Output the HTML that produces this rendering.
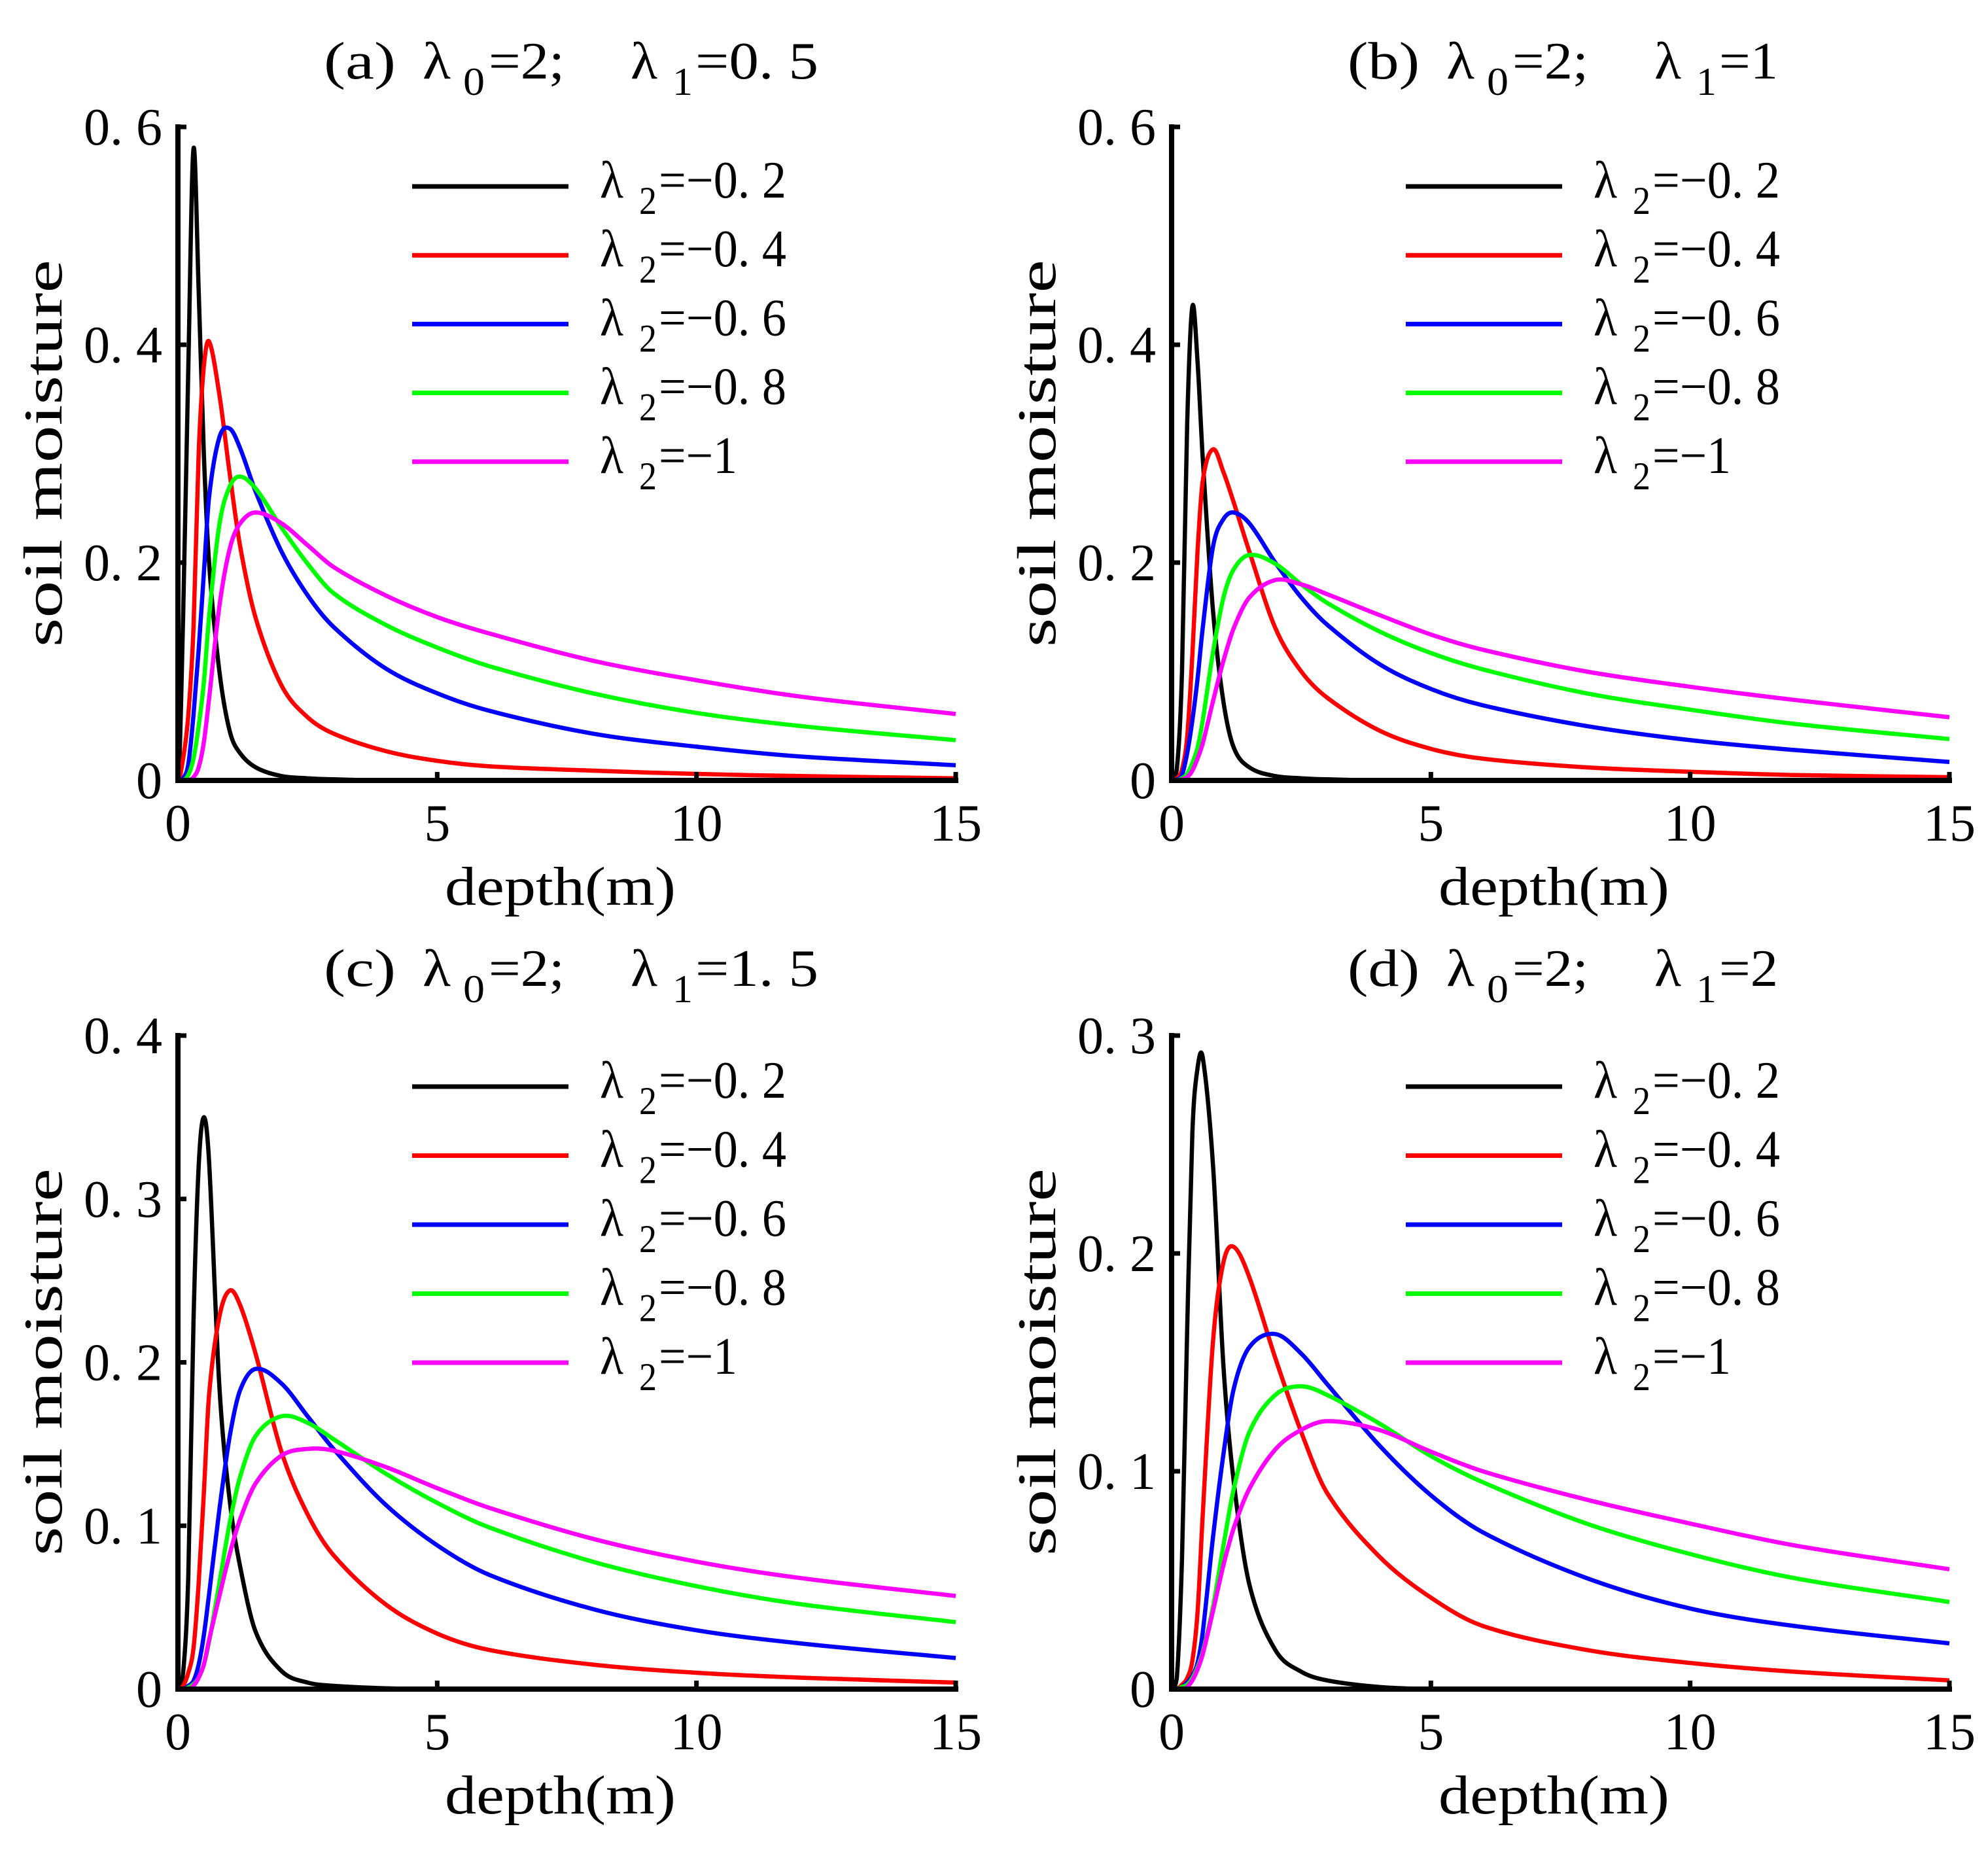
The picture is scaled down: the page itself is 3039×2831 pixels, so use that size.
<!DOCTYPE html>
<html><head><meta charset="utf-8"><style>
html,body{margin:0;padding:0;background:#fff;}
svg{display:block;}
text{font-family:"Liberation Serif","DejaVu Serif",serif;fill:#000;}
</style></head><body>
<svg id="fig" width="3039" height="2831" viewBox="0 0 3039 2831" xmlns="http://www.w3.org/2000/svg"></svg>
<script>
// ---- data ----
const depth = [0,0.1,0.2,0.3,0.4,0.5,0.6,0.8,1,1.2,1.5,2,2.5,3,4,5,6,8,10,12,15];
const seriesLabels = ["=−0. 2","=−0. 4","=−0. 6","=−0. 8","=−1"];
const seriesColors = ["#000000","#ff0000","#0000ff","#00ff00","#ff00ff"];

const a_l02 = [0,0.15,0.38,0.58,0.45,0.30,0.2,0.1,0.045,0.025,0.012,0.004,0.002,0.001,0,0,0,0,0,0,0];
const a_l04 = [0,0.02,0.06,0.14,0.30,0.38,0.403,0.354,0.281,0.215,0.149,0.087,0.058,0.043,0.027,0.018,0.013,0.009,0.006,0.004,0.002];
const a_l06 = [0,0.002,0.015,0.06,0.12,0.19,0.26,0.315,0.323,0.305,0.265,0.21,0.17,0.141,0.103,0.08,0.064,0.043,0.031,0.022,0.014];
const a_l08 = [0,0,0.005,0.02,0.05,0.09,0.15,0.235,0.27,0.279,0.268,0.232,0.199,0.172,0.143,0.122,0.105,0.08,0.062,0.05,0.037];
const a_l10 = [0,0,0,0.003,0.012,0.035,0.075,0.16,0.213,0.236,0.246,0.236,0.216,0.196,0.17,0.15,0.135,0.11,0.092,0.077,0.061];

const b_l02 = [0,0.01,0.1,0.327,0.435,0.385,0.296,0.155,0.072,0.03,0.012,0.004,0.002,0.001,0,0,0,0,0,0,0];
const b_l04 = [0,0.002,0.01,0.04,0.115,0.21,0.275,0.304,0.283,0.255,0.21,0.14,0.1,0.076,0.046,0.029,0.02,0.012,0.008,0.005,0.003];
const b_l06 = [0,0.001,0.005,0.025,0.055,0.093,0.14,0.215,0.24,0.246,0.236,0.2,0.168,0.143,0.107,0.084,0.069,0.05,0.037,0.028,0.017];
const b_l08 = [0,0,0.002,0.006,0.016,0.03,0.055,0.118,0.168,0.194,0.207,0.199,0.18,0.163,0.137,0.117,0.102,0.08,0.065,0.052,0.038];
const b_l10 = [0,0,0.001,0.003,0.009,0.02,0.034,0.073,0.11,0.14,0.168,0.184,0.18,0.171,0.152,0.134,0.12,0.1,0.086,0.074,0.058];

const c_l02 = [0,0.01,0.07,0.225,0.32,0.35,0.323,0.185,0.115,0.075,0.035,0.011,0.004,0.002,0.0005,0,0,0,0,0,0];
const c_l04 = [0,0.002,0.01,0.025,0.065,0.12,0.18,0.228,0.244,0.235,0.205,0.145,0.107,0.082,0.052,0.034,0.024,0.015,0.01,0.007,0.004];
const c_l06 = [0,0,0.002,0.005,0.015,0.033,0.058,0.11,0.155,0.183,0.196,0.187,0.167,0.147,0.113,0.088,0.07,0.049,0.036,0.028,0.019];
const c_l08 = [0,0,0.001,0.003,0.007,0.015,0.029,0.065,0.102,0.13,0.155,0.167,0.163,0.153,0.132,0.114,0.099,0.078,0.063,0.052,0.041];
const c_l10 = [0,0,0,0.002,0.007,0.015,0.03,0.057,0.083,0.104,0.126,0.143,0.147,0.146,0.136,0.123,0.111,0.092,0.078,0.068,0.057];

const d_l02 = [0,0.005,0.06,0.165,0.255,0.285,0.29,0.24,0.148,0.095,0.048,0.018,0.008,0.004,0.001,0,0,0,0,0,0];
const d_l04 = [0,0,0.002,0.005,0.013,0.035,0.08,0.16,0.196,0.203,0.189,0.152,0.118,0.09,0.061,0.042,0.029,0.018,0.012,0.008,0.004];
const d_l06 = [0,0,0.001,0.003,0.006,0.012,0.026,0.07,0.108,0.138,0.157,0.163,0.154,0.14,0.112,0.089,0.072,0.051,0.037,0.029,0.021];
const d_l08 = [0,0,0.001,0.002,0.005,0.01,0.017,0.038,0.066,0.092,0.118,0.135,0.139,0.135,0.122,0.107,0.095,0.076,0.062,0.051,0.04];
const d_l10 = [0,0,0,0.001,0.004,0.009,0.016,0.036,0.057,0.074,0.092,0.11,0.119,0.123,0.119,0.109,0.1,0.087,0.076,0.066,0.055];

const xTicks = [0,5,10,15];
const xTickLabels = ["0","5","10","15"];
const yTicksA = [0,0.2,0.4,0.6];
const yTickLabelsA = ["0","0. 2","0. 4","0. 6"];
const yTicksC = [0,0.1,0.2,0.3,0.4];
const yTickLabelsC = ["0","0. 1","0. 2","0. 3","0. 4"];
const yTicksD = [0,0.1,0.2,0.3];
const yTickLabelsD = ["0","0. 1","0. 2","0. 3"];
const titleLetters = ["(a)","(b)","(c)","(d)"];
const lambda1Labels = ["=0. 5","=1","=1. 5","=2"];

// ---- layout ----
const NS = "http://www.w3.org/2000/svg";
const svg = document.getElementById("fig");
function el(tag, attrs, parent){
  const e = document.createElementNS(NS, tag);
  for (const k in attrs) e.setAttribute(k, attrs[k]);
  (parent||svg).appendChild(e);
  return e;
}
const panels = [
  {key:"a", x0:272,  x1:1461, y0:1193, yTop:194,  yMax:0.6, ticks:yTicksA, tickLabels:yTickLabelsA, series:[a_l02,a_l04,a_l06,a_l08,a_l10], tX:495,  tY:120,  legY:285,  legD:105.2},
  {key:"b", x0:1791, x1:2980, y0:1193, yTop:194,  yMax:0.6, ticks:yTicksA, tickLabels:yTickLabelsA, series:[b_l02,b_l04,b_l06,b_l08,b_l10], tX:2060, tY:120,  legY:285,  legD:105.2},
  {key:"c", x0:272,  x1:1461, y0:2582, yTop:1583, yMax:0.4, ticks:yTicksC, tickLabels:yTickLabelsC, series:[c_l02,c_l04,c_l06,c_l08,c_l10], tX:495,  tY:1507, legY:1661, legD:105.5},
  {key:"d", x0:1791, x1:2980, y0:2582, yTop:1583, yMax:0.3, ticks:yTicksD, tickLabels:yTickLabelsD, series:[d_l02,d_l04,d_l06,d_l08,d_l10], tX:2060, tY:1507, legY:1661, legD:105.5}
];

function smoothPath(px, py, yBase){
  const n = px.length, t=[];
  for (let i=0;i<n;i++){
    if (i===0) t[i]=(py[1]-py[0])/(px[1]-px[0]);
    else if (i===n-1) t[i]=(py[n-1]-py[n-2])/(px[n-1]-px[n-2]);
    else t[i]=(py[i+1]-py[i-1])/(px[i+1]-px[i-1]);
  }
  t[0]=0;
  let d = "M"+px[0].toFixed(1)+","+py[0].toFixed(1);
  for (let i=0;i<n-1;i++){
    const h=(px[i+1]-px[i])/3;
    const c1=Math.min(yBase, py[i]+t[i]*h), c2=Math.min(yBase, py[i+1]-t[i+1]*h);
    d += " C"+(px[i]+h).toFixed(1)+","+c1.toFixed(1)+" "+(px[i+1]-h).toFixed(1)+","+c2.toFixed(1)+" "+px[i+1].toFixed(1)+","+py[i+1].toFixed(1);
  }
  return d;
}

panels.forEach((p, pi) => {
  const g = el("g", {});
  
  
  const sx = v => p.x0 + (v/15)*(p.x1-p.x0);
  const sy = v => p.y0 - (v/p.yMax)*(p.y0-p.yTop);

  p.series.forEach((vals, si) => {
    const px = depth.map(sx), py = vals.map(sy);
    const path = el("path", {d:smoothPath(px,py,p.y0), fill:"none", stroke:seriesColors[si], "stroke-width":6.5, "stroke-linejoin":"round"}, g);
    
    
  });

  const axes = el("path", {d:"M"+p.x0+","+p.yTop+" L"+p.x0+","+p.y0+" L"+p.x1+","+p.y0, fill:"none", stroke:"#000", "stroke-width":8, "stroke-linecap":"square"}, g);
  
  

  p.ticks.forEach((v, i) => {
    const y = sy(v);
    const tk = el("line", {x1:p.x0, x2:p.x0+13, y1:y, y2:y, stroke:"#000", "stroke-width":7}, g);
    
    
    const t = el("text", {x:p.x0-24, y:y+27, "font-size":80, "text-anchor":"end"}, g);
    
    
    t.textContent = p.tickLabels[i];
  });
  xTicks.forEach((v, i) => {
    const x = sx(v);
    const tk = el("line", {x1:x, x2:x, y1:p.y0, y2:p.y0-13, stroke:"#000", "stroke-width":7}, g);
    
    
    const t = el("text", {x:x, y:p.y0+92, "font-size":80, "text-anchor":"middle"}, g);
    
    
    t.textContent = xTickLabels[i];
  });

  const xt = el("text", {x:(p.x0+p.x1)/2 - 10, y:p.y0+190, "font-size":84, "text-anchor":"middle", textLength:353, lengthAdjust:"spacingAndGlyphs"}, g);
  
  
  xt.textContent = "depth(m)";
  const ycx = p.x0 - 204, ycy = p.yTop + 499;
  const yt = el("text", {x:ycx, y:ycy+26, "font-size":84, "text-anchor":"middle", textLength:592, lengthAdjust:"spacingAndGlyphs", transform:"rotate(-90 "+ycx+" "+ycy+")"}, g);
  
  
  yt.textContent = "soil moisture";

  const tg = el("g", {}, g);
  
  
  const parts = [
    [titleLetters[pi], 0, 0, 80, 110],
    ["λ", 151, 0, 80, 43],
    ["0", 213, 25, 60, 33],
    ["=2;", 252, 0, 80, 116],
    ["λ", 469, 0, 80, 41],
    ["1", 533, 25, 60, 31],
    [lambda1Labels[pi], 568, 0, 80, lambda1Labels[pi].length>2 ? 188 : 90]
  ];
  parts.forEach(q => {
    const t = el("text", {x:p.tX+q[1], y:p.tY+q[2], "font-size":q[3], textLength:q[4], lengthAdjust:"spacingAndGlyphs"}, tg);
    t.textContent = q[0];
  });

  seriesColors.forEach((c, si) => {
    const ly = p.legY + si*p.legD;
    const lg = el("g", {}, g);
    
    
    el("line", {x1:p.x0+358, x2:p.x0+597, y1:ly, y2:ly, stroke:c, "stroke-width":7}, lg);
    const t1 = el("text", {x:p.x0+645, y:ly+17, "font-size":80, textLength:36, lengthAdjust:"spacingAndGlyphs"}, lg);
    t1.textContent = "λ";
    const t2 = el("text", {x:p.x0+705, y:ly+42, "font-size":60, textLength:27, lengthAdjust:"spacingAndGlyphs"}, lg);
    t2.textContent = "2";
    const t3 = el("text", {x:p.x0+735, y:ly+17, "font-size":80, textLength:seriesLabels[si].length>3 ? 195 : 120, lengthAdjust:"spacingAndGlyphs"}, lg);
    t3.textContent = seriesLabels[si];
  });
});
</script>
</body></html>
